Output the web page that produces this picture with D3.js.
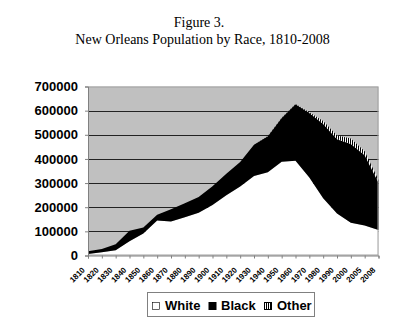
<!DOCTYPE html>
<html><head><meta charset="utf-8">
<script src="https://cdn.jsdelivr.net/npm/d3@7"></script>
<style>body{margin:0;background:#fff}svg{display:block}</style>
</head><body>
<script>
const years = ["1810","1820","1830","1840","1850","1860","1870","1880","1890","1900","1910","1920","1930","1940","1950","1960","1970","1980","1990","2000","2005","2008"];
const white = [6331,13584,21281,59519,91431,144601,140923,158367,177376,208946,249403,285915,329069,344775,387814,392594,323420,236967,173554,135956,124000,106000];
const black = [10911,13592,24801,42674,24944,24074,50456,57617,64491,77714,89262,100930,129632,149034,181775,233514,267308,308149,307728,325947,291000,195000];
const other = [0,0,0,0,0,0,39,106,172,444,410,374,61,728,856,1417,2743,12399,15656,22771,17000,12000];
const yTicks = [0,100000,200000,300000,400000,500000,600000,700000];
const seriesNames = ["White","Black","Other"];

const W = 400, H = 332;
const svg = d3.select("body").append("svg").attr("width", W).attr("height", H);

const defs = svg.append("defs");
const pat = defs.append("pattern").attr("id","vhatch").attr("patternUnits","userSpaceOnUse")
  .attr("width",2).attr("height",4);
pat.append("rect").attr("width",2).attr("height",4).attr("fill","#fff");
pat.append("rect").attr("width",1).attr("height",4).attr("fill","#000");

const fills = {White:"#ffffff", Black:"#000000", Other:"url(#vhatch)"};

// titles
svg.append("text").attr("x",199).attr("y",27).attr("text-anchor","middle")
  .attr("font-family","Liberation Serif, Times New Roman, serif").attr("font-size",14).text("Figure 3.");
svg.append("text").attr("x",202.5).attr("y",44).attr("text-anchor","middle")
  .attr("font-family","Liberation Serif, Times New Roman, serif").attr("font-size",14).text("New Orleans Population by Race, 1810-2008");

const x0 = 88, x1 = 378.5, yTop = 86.5, yBot = 255.5;
const x = d3.scalePoint().domain(years).range([x0, x1]).padding(0);
const y = d3.scaleLinear().domain([0,700000]).range([yBot, yTop]);

// plot background
svg.append("rect").attr("x",x0).attr("y",yTop).attr("width",x1-x0).attr("height",yBot-yTop).attr("fill","#c0c0c0");

// gridlines
svg.append("g").selectAll("line").data(yTicks.filter(t=>t>0 && t<700000)).join("line")
  .attr("x1",x0).attr("x2",x1).attr("y1",d=>Math.round(y(d))+0.5).attr("y2",d=>Math.round(y(d))+0.5)
  .attr("stroke","#222").attr("stroke-width",1);

// stacked areas
const table = years.map((yr,i)=>({year:yr, White:white[i], Black:black[i], Other:other[i]}));
const stack = d3.stack().keys(seriesNames);
const layers = stack(table);
const area = d3.area().x(d=>x(d.data.year)).y0(d=>y(d[0])).y1(d=>y(d[1]));
svg.append("g").selectAll("path").data(layers).join("path")
  .attr("d",area).attr("fill",d=>fills[d.key]).attr("stroke","none");

// plot border
svg.append("rect").attr("x",x0+0.5).attr("y",yTop+0.5).attr("width",x1-x0-1).attr("height",yBot-yTop-1)
  .attr("fill","none").attr("stroke","#a0a0a0").attr("stroke-width",1);

// y axis
const yAxis = d3.axisLeft(y).tickValues(yTicks).tickSize(3).tickFormat(d3.format("d"));
const gy = svg.append("g").attr("transform",`translate(${x0},0)`).call(yAxis);
gy.select(".domain").attr("stroke","#808080");
gy.selectAll(".tick line").attr("stroke","#808080");
gy.selectAll("text").attr("font-family","Liberation Sans, Arial, sans-serif").attr("font-weight","bold")
  .attr("font-size",13).attr("fill","#000").attr("x",-10);

// x axis
const xAxis = d3.axisBottom(x).tickSize(3);
const gx = svg.append("g").attr("transform",`translate(0,${yBot})`).call(xAxis);
gx.select(".domain").attr("stroke","#808080");
gx.selectAll(".tick line").attr("stroke","#808080");
gx.selectAll("text").attr("font-family","Liberation Sans, Arial, sans-serif").attr("font-weight","bold")
  .attr("font-size",8).attr("fill","#000")
  .attr("text-anchor","end").attr("dy",null).attr("y",0).attr("x",0)
  .attr("transform","translate(-3,15) rotate(-45)");

// legend
const lg = svg.append("g");
lg.append("rect").attr("x",147.5).attr("y",292.5).attr("width",167).attr("height",24)
  .attr("fill","#fff").attr("stroke","#808080");
const legItems = [
  {name:"White", sx:152, tx:165},
  {name:"Black", sx:208.5, tx:221},
  {name:"Other", sx:264, tx:277}
];
legItems.forEach(it=>{
  lg.append("rect").attr("x",it.sx+0.5).attr("y",302.5).attr("width",7).attr("height",7)
    .attr("fill",fills[it.name]).attr("stroke","#000").attr("stroke-width",it.name==="White"?0.6:1);
  lg.append("text").attr("x",it.tx).attr("y",310).attr("font-family","Liberation Sans, Arial, sans-serif")
    .attr("font-weight","bold").attr("font-size",13).text(it.name);
});
</script>
</body></html>
